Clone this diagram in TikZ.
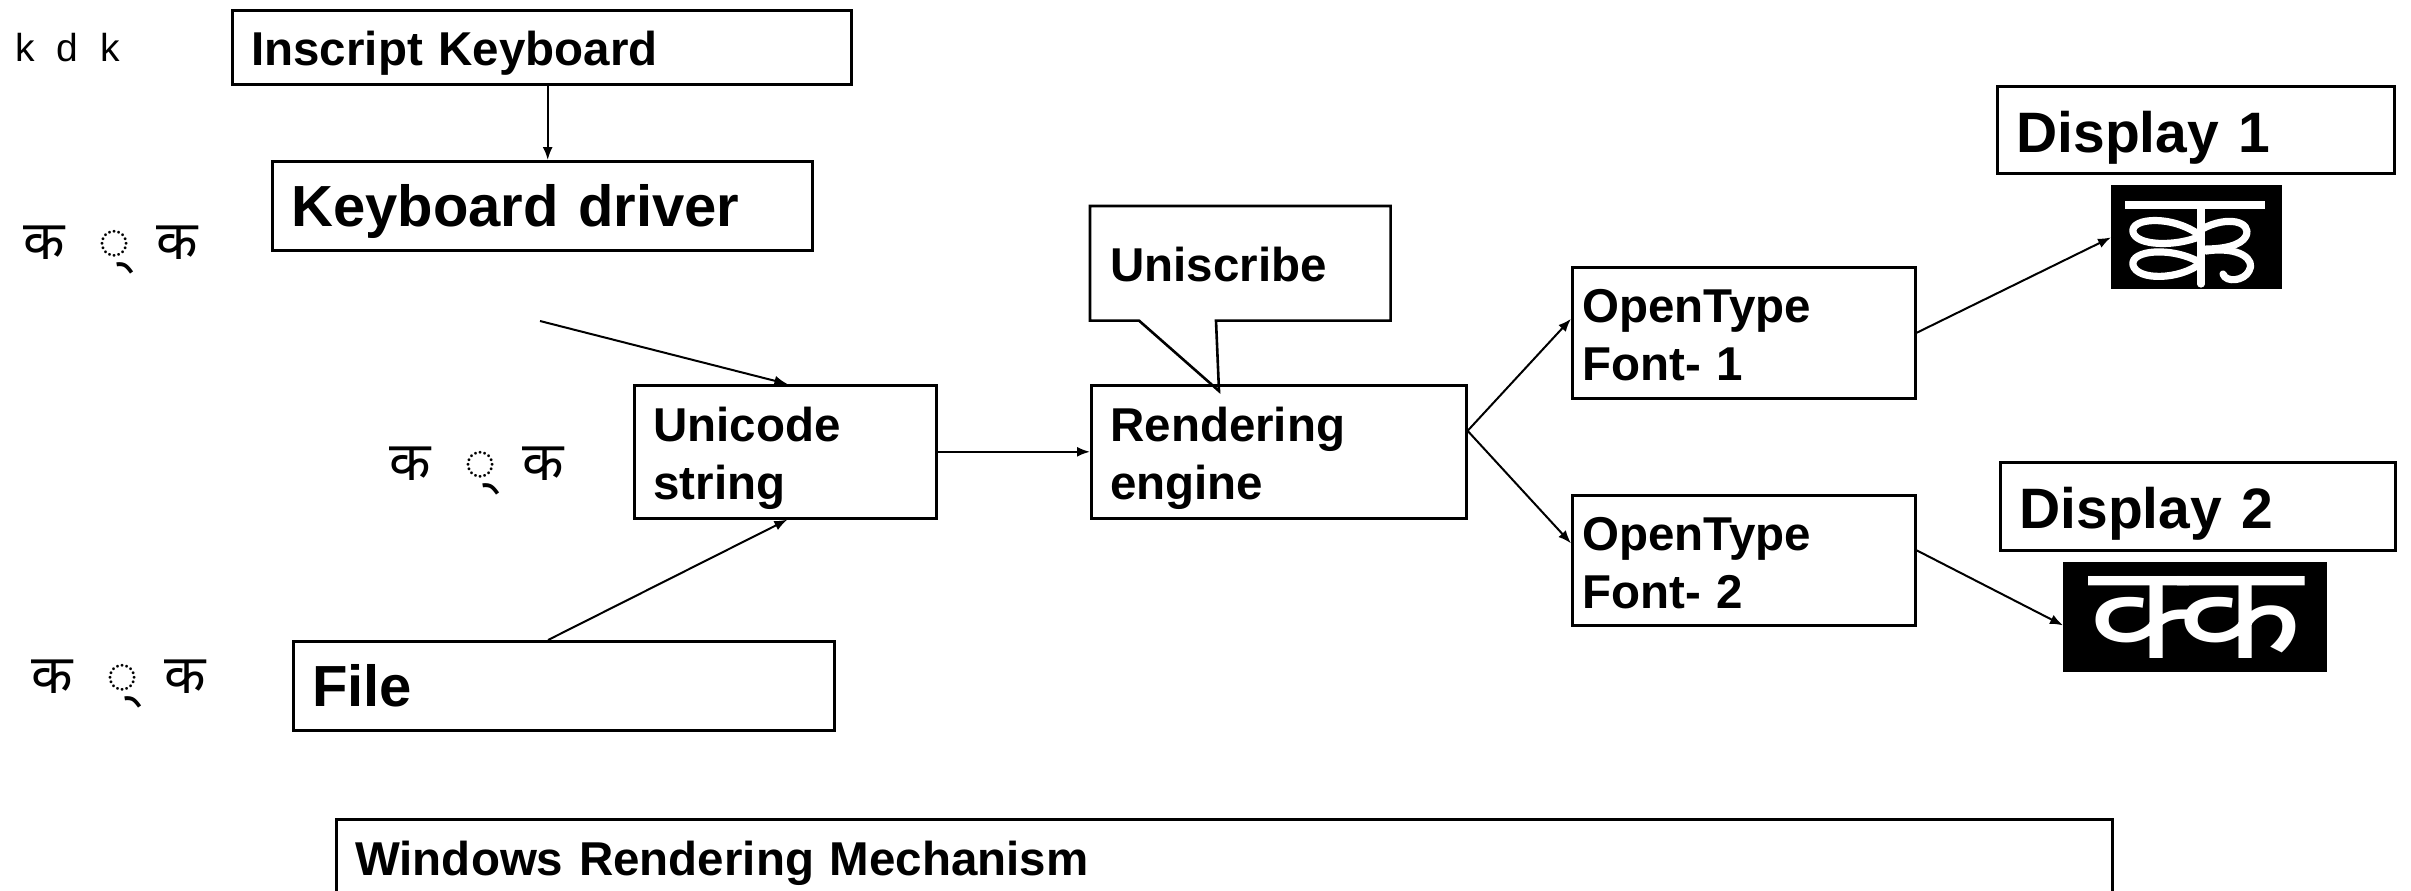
\documentclass[tikz,border=0pt]{standalone}
\usepackage{fontspec}
\setmainfont{Liberation Sans}
\newfontfamily\deva[Script=Devanagari]{Noto Sans}
\usetikzlibrary{arrows.meta,calc}
\begin{document}
\begin{tikzpicture}[x=0.5pt,y=-0.5pt,
  box/.style={draw, line width=1.3pt, anchor=north west, inner ysep=0pt, inner xsep=9.5pt, align=left},
  fA/.style={font=\fontsize{23.75}{29}\selectfont\bfseries},
  fB/.style={font=\fontsize{29}{34}\selectfont\bfseries},
  fD/.style={font=\fontsize{28.5}{34}\selectfont\bfseries},
  dv/.style={anchor=west, inner sep=0pt, font=\fontsize{27}{30}\selectfont\deva},
  img/.style={fill=black, text=white, anchor=north west, inner sep=0pt},
  glyph/.style={draw=white, line width=3.6pt, line cap=round, line join=round},
  arr/.style={line width=1pt, -{Latex[length=6.5pt,width=5pt]}},
  ln/.style={line width=1.3pt}
]
\useasboundingbox (0,0) rectangle (2411,890);

% boxes
\node[box,fA,text height=23.3pt,text width=290.5pt,minimum height=37pt] (ik) at (231,9) {Inscript Keyboard};
\node[box,fB,text height=27.1pt,text width=251pt,minimum height=44.5pt] (kd) at (271,160) {Keyboard driver};
\node[box,fA,text height=23.3pt,text width=132pt,minimum height=66.5pt] (us) at (633,384) {Unicode\\string};
\node[box,fA,text height=23.3pt,text width=168.5pt,minimum height=66.5pt] (re) at (1090,384) {Rendering\\engine};
\node[box,fA,text height=18.8pt,draw=none,text width=130pt,minimum height=56pt] (un) at (1090,206) {Uniscribe};
\node[box,fA,text height=19pt,inner xsep=5pt,text width=161.5pt,minimum height=65.5pt] (ot1) at (1571,266) {OpenType\\Font- 1};
\node[box,fA,text height=19pt,inner xsep=5pt,text width=161.5pt,minimum height=65pt] (ot2) at (1571,494) {OpenType\\Font- 2};
\node[box,fD,text height=28.5pt,text width=179.5pt,minimum height=43.5pt] (d1) at (1996,85) {Display 1};
\node[box,fD,text height=28.5pt,text width=178.5pt,minimum height=44pt] (d2) at (1999,461) {Display 2};
\node[box,fB,text width=251.5pt,minimum height=44.5pt] (fl) at (292,640) {File};
\node[box,fA,text height=23.3pt,text width=869pt,minimum height=38pt] (wr) at (335,818) {Windows Rendering Mechanism};

% rendered glyph image 1 (stacked conjunct, drawn as a picture)
\node[img,minimum width=85.5pt,minimum height=52pt] (d1img) at (2111,185) {};
\fill[white] (2125,201) rectangle (2265,209);
\draw[glyph] (2201,208) -- (2201,284);
\draw[glyph] (2201,236) .. controls (2172,214) and (2130,218) .. (2133,232) .. controls (2136,246) and (2176,247) .. (2201,236);
\draw[glyph] (2201,263) .. controls (2172,246) and (2130,250) .. (2133,265) .. controls (2137,281) and (2180,280) .. (2201,263);
\draw[glyph] (2202,229) .. controls (2228,215) and (2252,222) .. (2246,236) .. controls (2241,246) and (2222,249) .. (2206,249);
\draw[glyph] (2206,251) .. controls (2240,246) and (2256,260) .. (2249,271) .. controls (2244,281) and (2226,283) .. (2223,274);

% rendered glyph image 2
\node[img,minimum width=132pt,minimum height=55pt] (d2img) at (2063,562) {\resizebox{107pt}{41pt}{\deva क्क}};

% side labels
\node[anchor=west,inner sep=0pt,font=\fontsize{19.5}{22}\selectfont] (kdk) at (15,48) {k\hspace{11pt}d\hspace{11pt}k};
\node[dv] (dv1) at (23,250) {क\hspace{17pt}◌्\hspace{13pt}क};
\node[dv] (dv2) at (389,471) {क\hspace{17pt}◌्\hspace{13pt}क};
\node[dv] (dv3) at (31,684) {क\hspace{17pt}◌्\hspace{13pt}क};

% Uniscribe callout outline
\coordinate (tip) at ($(re.north west)+(129,7)$);
\draw[ln] ($(un.south west)+(126,0)$) -- (un.south east) -- (un.north east) -- (un.north west) -- (un.south west) -- ($(un.south west)+(49,0)$) -- (tip) -- cycle;

% connectors
\coordinate (kdn) at ($(kd.north west)!0.51!(kd.north east)$);
\draw[arr] (ik.south -| kdn) -- (kdn);
\coordinate (kin) at (540,321);
\draw[arr] (kin) -- ($(us.north west)!0.507!(us.north east)$);
\draw[arr] ($(fl.north west)!0.471!(fl.north east)$) -- ($(us.south west)!0.507!(us.south east)$);
\draw[arr] (us.east) -- (re.west);
\coordinate (rout) at ($(re.east)+(0,-21)$);
\draw[arr] (rout) -- ($(ot1.west)+(0,-14)$);
\draw[arr] (rout) -- ($(ot2.west)+(0,-17)$);
\draw[arr] (ot1.east) -- (d1img.west);
\draw[arr] ($(ot2.east)+(0,-10)$) -- ($(d2img.west)+(0,8)$);
\end{tikzpicture}
\end{document}
